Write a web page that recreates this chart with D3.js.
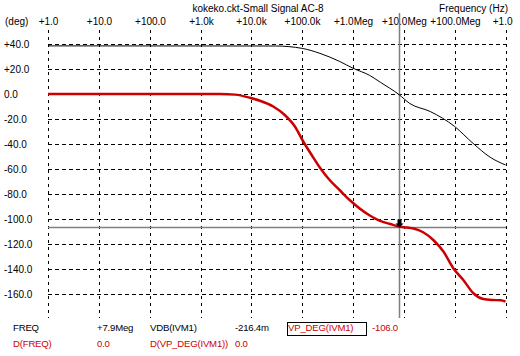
<!DOCTYPE html>
<html><head><meta charset="utf-8">
<script src="https://cdn.jsdelivr.net/npm/d3@7"></script>
<style>
html,body{margin:0;padding:0;background:#fff;}
svg{display:block;}
text{font-family:"Liberation Sans",Arial,sans-serif;font-size:10px;}
text.ro{font-size:9.6px;letter-spacing:-0.2px;}
</style></head>
<body><svg id="c" width="520" height="356"></svg>
<script>
const freqTicks = [1,10,100,1e3,1e4,1e5,1e6,1e7,1e8,1e9];
const freqLabels = ["+1.0","+10.0","+100.0","+1.0k","+10.0k","+100.0k","+1.0Meg","+10.0Meg","+100.0Meg","+1.0G"];
const degTicks = [40,20,0,-20,-40,-60,-80,-100,-120,-140,-160];
const degLabels = ["+40.0","+20.0","0.0","-20.0","-40.0","-60.0","-80.0","-100.0","-120.0","-140.0","-160.0"];

// black trace
const blackFreq = [1,3e4,1e5,2.24e5,5.5e5,1e6,2.1e6,3.45e6,8e6,1.3e7,3.3e7,1e8,2.3e8,5e8,1e9];
const blackDeg  = [38.5,38.4,36.5,32.5,26,20.6,15,9.4,-0.4,-7.5,-14,-26,-39.5,-50.6,-56.8];
// red trace VP_DEG(IVM1)
const redFreq = [1,10,100,1000,2400,4800,9400,14800,27000,46000,72000,105000,155000,224000,350000,550000,870000,2.1e6,3.4e6,5.4e6,7.9e6,1.15e7,1.55e7,2.4e7,3.8e7,6.0e7,9.4e7,1.48e8,2.33e8,3.66e8,5.5e8,8e8,1e9];
const redDeg  = [0,0,0,0,0,-0.5,-3,-5.4,-10,-17,-26,-38,-49,-59,-69,-77,-85,-97,-101.5,-104,-106,-106.8,-107.6,-110.6,-116.8,-126,-139.4,-148.8,-159.4,-164,-164.8,-165,-166];

const cursorFreq = 7.9e6, cursorDeg = -106.0;
const title = "kokeko.ckt-Small Signal AC-8";
const xTitle = "Frequency (Hz)";
const yTitle = "(deg)";
const row1 = [["FREQ","#000"],["+7.9Meg","#000"],["VDB(IVM1)","#000"],["-216.4m","#000"],["VP_DEG(IVM1)","#cc0000"],["-106.0","#cc0000"]];
const row2 = [["D(FREQ)","#cc0000"],["0.0","#cc0000"],["D(VP_DEG(IVM1))","#cc0000"],["0.0","#cc0000"]];

const svg = d3.select("#c");
svg.append("rect").attr("width",520).attr("height",356).attr("fill","#fff");
const x = d3.scaleLog().domain([1,1e9]).range([48,505.5]);
const y = d3.scaleLinear().domain([40,-160]).range([44,294]);

svg.append("defs").append("clipPath").attr("id","clipR").append("rect")
  .attr("x",0).attr("y",0).attr("width",513).attr("height",356);

// titles
svg.append("text").attr("x",258).attr("y",12).attr("text-anchor","middle").text(title);
svg.append("text").attr("x",508).attr("y",12).attr("text-anchor","end").text(xTitle);
svg.append("text").attr("x",5).attr("y",25).text(yTitle);

// top axis labels
const gx = svg.append("g").attr("clip-path","url(#clipR)");
gx.selectAll("text").data(freqTicks).join("text")
  .attr("x",d=>Math.round(x(d))+0.5).attr("y",25).attr("text-anchor","middle")
  .text((d,i)=>freqLabels[i]);

// vertical grid
svg.append("g").selectAll("line").data(freqTicks).join("line")
  .attr("x1",d=>Math.round(x(d))+0.5).attr("x2",d=>Math.round(x(d))+0.5)
  .attr("y1",30).attr("y2",318)
  .attr("stroke","#000").attr("stroke-width",1).attr("stroke-dasharray","3,4");

// horizontal grid + labels
svg.append("g").selectAll("line").data(degTicks).join("line")
  .attr("x1",48).attr("x2",506)
  .attr("y1",d=>Math.round(y(d))+0.5).attr("y2",d=>Math.round(y(d))+0.5)
  .attr("stroke","#000").attr("stroke-width",1).attr("stroke-dasharray","4,3");
svg.append("g").selectAll("text").data(degTicks).join("text")
  .attr("x",4).attr("y",d=>y(d)+3.5).text((d,i)=>degLabels[i]);

// cursor lines
const cx = Math.round(x(cursorFreq))+0.5, cy = Math.round(y(cursorDeg))+0.5;
svg.append("line").attr("x1",cx).attr("x2",cx).attr("y1",13).attr("y2",318)
  .attr("stroke","#808080").attr("stroke-width",1.5);
svg.append("line").attr("x1",48).attr("x2",506).attr("y1",cy).attr("y2",cy)
  .attr("stroke","#808080").attr("stroke-width",1.5);

// traces
const line = d3.line().x(d=>x(d[0])).y(d=>y(d[1])).curve(d3.curveMonotoneX);
svg.append("path").datum(blackFreq.map((f,i)=>[f,blackDeg[i]]))
  .attr("d",line).attr("fill","none").attr("stroke","#000").attr("stroke-width",1);
svg.append("path").datum(redFreq.map((f,i)=>[f,redDeg[i]]))
  .attr("d",line).attr("fill","none").attr("stroke","#cc0000").attr("stroke-width",2.5);

// cursor marker (down arrow)
svg.append("path")
  .attr("d",`M${cx-2},${cy-8}h4v4h2l-4,4l-4,-4h2z`)
  .attr("fill","#000");

// readout
const col = [13,97,150,235,288,372];
row1.forEach((r,i)=>svg.append("text").attr("class","ro").attr("x",col[i]).attr("y",331).attr("fill",r[1]).text(r[0]));
row2.forEach((r,i)=>svg.append("text").attr("class","ro").attr("x",col[i]).attr("y",347).attr("fill",r[1]).text(r[0]));
svg.append("rect").attr("x",287.5).attr("y",322.5).attr("width",79).attr("height",13)
  .attr("fill","none").attr("stroke","#000").attr("stroke-width",1);
</script></body></html>
